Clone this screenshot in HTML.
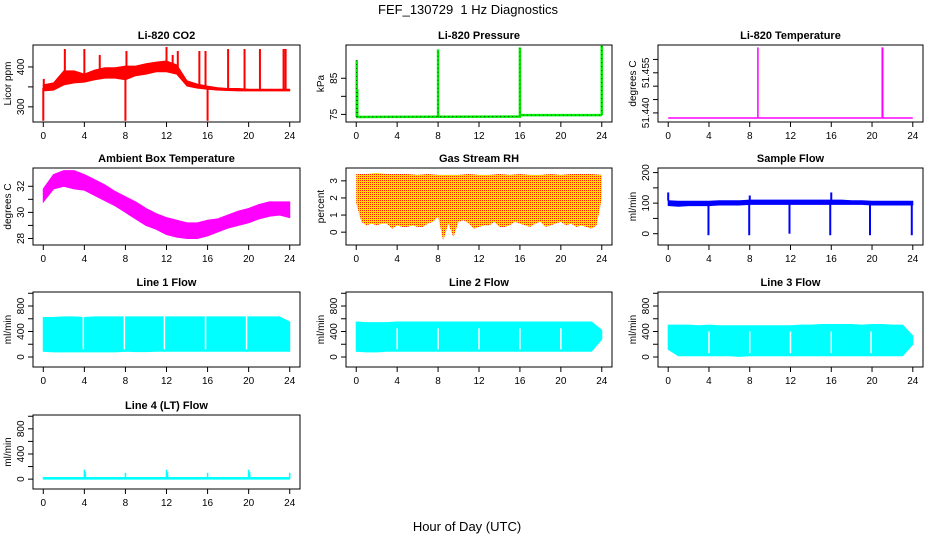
<!DOCTYPE html>
<html><head><meta charset="utf-8"><style>
html,body{margin:0;padding:0;background:#fff;}
svg{display:block;font-family:"Liberation Sans",sans-serif;}
</style></head><body>
<svg id="c" width="936" height="540" xmlns="http://www.w3.org/2000/svg">
<defs>
<pattern id="rhpat" width="2" height="2" patternUnits="userSpaceOnUse">
<rect width="2" height="2" fill="#ffdd00"/><rect width="1" height="1" fill="#ff2200"/>
</pattern>
</defs>
<text x="468" y="14" font-size="13" text-anchor="middle">FEF_130729&#160; 1 Hz Diagnostics</text>
<text x="467" y="531" font-size="13" text-anchor="middle">Hour of Day (UTC)</text>
</svg>
<script>
// ---- data ----
const hours = [0,1,2,3,4,5,6,7,8,9,10,11,12,13,14,15,16,17,18,19,20,21,22,23,24];
const halfHours = [0,0.5,1,1.5,2,2.5,3,3.5,4,4.5,5,5.5,6,6.5,7,7.5,8,8.5,9,9.5,10,10.5,11,11.5,12,12.5,13,13.5,14,14.5,15,15.5,16,16.5,17,17.5,18,18.5,19,19.5,20,20.5,21,21.5,22,22.5,23,23.5,24];
const xTicks = [0,4,8,12,16,20,24];

const co2Low = [340,342,355,360,362,368,372,372,368,378,382,388,388,382,352,347,344,342,341,340,340,340,340,340,340];
const co2High = [355,360,390,390,382,392,398,398,402,402,408,412,415,405,365,357,352,348,346,346,344,344,344,344,344];
const co2SpikeHours = [0.05,0,2.1,4,5.5,8,8.1,12,12.6,13.1,15.2,15.8,16,18,19.6,21.1,23.4,23.6];
const co2SpikeVals = [370,265,445,445,430,265,440,450,430,440,440,440,265,445,445,445,445,445];

const presHours = [0,0.1,16,16.01,24];
const presVals = [74.3,74.3,74.4,74.8,74.8];
const presSpikeHours = [0.05,0.1,8,16,24];
const presSpikeVals = [90,82,93,93.5,94];

const tempBase = [51.4381,51.4381];
const tempBaseHours = [0,24];
const tempSpikeHours = [8.8,21.0,21.05];
const tempSpikeVals = [51.4645,51.4645,51.4645];

const ambLow = [30.8,31.8,32.0,31.8,31.7,31.3,30.9,30.5,30.0,29.5,29.0,28.7,28.3,28.1,28.0,28.0,28.2,28.5,28.8,29.0,29.2,29.5,29.7,29.8,29.6];
const ambHigh = [31.8,32.9,33.2,33.2,32.9,32.5,32.1,31.6,31.2,30.8,30.3,29.9,29.6,29.4,29.2,29.2,29.4,29.5,29.8,30.1,30.3,30.6,30.8,30.8,30.8];

const rhHigh = [3.4,3.4,3.45,3.4,3.4,3.4,3.35,3.4,3.35,3.35,3.35,3.4,3.35,3.35,3.4,3.35,3.4,3.35,3.35,3.4,3.35,3.4,3.4,3.4,3.35];
const rhLow = [1.7,0.6,0.4,0.5,0.4,0.5,0.5,0.2,0.4,0.3,0.3,0.4,0.3,0.3,0.5,0.6,0.9,-0.5,0.5,-0.3,0.6,0.7,0.5,0.2,0.3,0.4,0.4,0.6,0.3,0.3,0.4,0.6,0.5,0.4,0.3,0.5,0.6,0.3,0.4,0.5,0.6,0.4,0.5,0.3,0.4,0.3,0.2,0.4,2.0];

const sfLow = [92,90,92,92,92,94,94,94,96,96,96,96,96,96,96,96,96,96,96,96,94,94,94,94,94];
const sfHigh = [108,106,106,106,106,108,108,108,110,110,110,110,110,110,110,110,110,110,108,108,106,106,106,106,106];
const sfDipHours = [3.95,7.95,11.9,15.9,19.8,23.9];
const sfDipVals = [-5,-5,0,-5,-5,-5];
const sfPeakHours = [0,8,16];
const sfPeakVals = [135,125,135];

const l1Low = [90,80,80,80,80,80,80,80,90,85,85,90,90,90,90,90,90,90,90,90,90,90,90,90,90];
const l1High = [620,620,630,630,620,630,630,630,630,630,630,630,630,630,630,630,630,630,630,630,630,630,630,630,550];
const l1Gaps = [3.9,7.9,11.8,15.8,19.8];
const l2Low = [90,80,80,90,90,90,90,90,90,90,90,90,90,90,90,90,90,90,90,90,90,90,90,90,280];
const l2High = [550,540,540,540,550,550,550,550,550,550,550,550,550,550,550,550,550,550,550,550,550,550,550,550,420];
const l2Gaps = [4,8,12,16,20];
const l3Low = [120,20,20,20,20,20,20,10,20,20,20,20,20,20,20,20,20,20,20,20,20,20,20,20,200];
const l3High = [500,500,500,490,500,490,490,490,490,490,490,490,490,500,500,510,510,510,510,500,510,510,500,500,330];
const l3Gaps = [4,8,12,16,19.9];
const l4Low = [0,0,0,0,0,0,0,0,0,0,0,0,0,0,0,0,0,0,0,0,0,0,0,0,0];
const l4High = [25,25,25,25,25,25,25,25,25,25,25,25,25,25,25,25,25,25,25,25,25,25,25,25,25];
const l4SpikeHours = [4,4.1,8,12,12.1,16,20,20.1,24];
const l4SpikeVals = [150,110,100,150,110,100,150,110,100];

// ---- layout ----
const NS = "http://www.w3.org/2000/svg";
const svg = document.getElementById('c');
const cols = [{x0:33,x1:300},{x0:346,x1:612},{x0:658,x1:923}];
const rows = [{y0:45,y1:122},{y0:168,y1:245},{y0:292,y1:367},{y0:415,y1:489}];

function el(tag, attrs, parent){
  const e = document.createElementNS(NS, tag);
  for (const k in attrs) e.setAttribute(k, attrs[k]);
  (parent||svg).appendChild(e);
  return e;
}

function makePanel(ci, ri, title, ytitle, v1, v2, yTicks, yLabels, name){
  const c = cols[ci], r = rows[ri];
  const pad = (c.x1 - c.x0) * 0.0385;
  const xs = h => c.x0 + pad + h/24 * (c.x1 - c.x0 - 2*pad);
  const ys = v => r.y1 - (v - v1)/(v2 - v1) * (r.y1 - r.y0);
  const g = el('g', {});
  
  
  const dataG = el('g', {}, g);
  
  
  const box = el('rect', {x:c.x0, y:r.y0, width:c.x1-c.x0, height:r.y1-r.y0, fill:'none', stroke:'#000', 'stroke-width':1}, g);
  
  
  const t = el('text', {x:(c.x0+c.x1)/2, y:r.y0-6, 'font-size':11, 'font-weight':'bold', 'text-anchor':'middle'}, g);
  t.textContent = title;
  
  
  const xa = el('g', {}, g);
  
  
  xTicks.forEach(h => {
    el('line', {x1:xs(h), x2:xs(h), y1:r.y1, y2:r.y1+5, stroke:'#000'}, xa);
    const tl = el('text', {x:xs(h), y:r.y1+17, 'font-size':10, 'text-anchor':'middle'}, xa);
    tl.textContent = h;
    
    
  });
  const ya = el('g', {}, g);
  
  
  yTicks.forEach(v => {
    el('line', {x1:c.x0-5, x2:c.x0, y1:ys(v), y2:ys(v), stroke:'#000'}, ya);
  });
  yLabels.forEach(v => {
    const lx = c.x0 - 9;
    const tl = el('text', {x:lx, y:ys(v), 'font-size':10, 'text-anchor':'middle', transform:`rotate(-90 ${lx} ${ys(v)})`}, ya);
    tl.textContent = v;
    
    
  });
  const tx = c.x0 - 22, ty = (r.y0 + r.y1)/2;
  const yt = el('text', {x:tx, y:ty, 'font-size':10, 'text-anchor':'middle', transform:`rotate(-90 ${tx} ${ty})`}, ya);
  yt.textContent = ytitle;
  
  
  return {xs, ys, g:dataG};
}

function band(p, hs, lo, hi, fill, strokeW){
  let pts = hs.map((h,i)=>p.xs(h)+','+p.ys(hi[i]));
  for (let i = hs.length-1; i >= 0; i--) pts.push(p.xs(hs[i])+','+p.ys(lo[i]));
  const pg = el('polygon', {points:pts.join(' '), fill:fill, stroke:fill, 'stroke-width':strokeW===undefined?1:strokeW}, p.g);
  
  
  return pg;
}
function line(p, hs, vs, color, w, dash){
  const pts = hs.map((h,i)=>p.xs(h)+','+p.ys(vs[i])).join(' ');
  const a = {points:pts, fill:'none', stroke:color, 'stroke-width':w||1};
  if (dash) a['stroke-dasharray'] = dash;
  const pl = el('polyline', a, p.g);
  
  
  return pl;
}
function spikes(p, hs, vs, baseFn, color, w, dash){
  hs.forEach((h,i)=>{
    const a = {x1:p.xs(h), x2:p.xs(h), y1:p.ys(baseFn(h)), y2:p.ys(vs[i]), stroke:color, 'stroke-width':w||1.5};
    if (dash) a['stroke-dasharray'] = dash;
    const ln = el('line', a, p.g);
    
    
  });
}
function gaps(p, hs, top, bot){
  hs.forEach(h=>{
    const ln = el('line', {x1:p.xs(h), x2:p.xs(h), y1:p.ys(top), y2:p.ys(bot), stroke:'#fff', 'stroke-width':1.5}, p.g);
    
    
  });
}
const interp = (hs, vs) => h => {
  for (let i=0;i<hs.length-1;i++) if (h<=hs[i+1]) { const t=(h-hs[i])/(hs[i+1]-hs[i]||1); return vs[i]+t*(vs[i+1]-vs[i]); }
  return vs[vs.length-1];
};

// CO2
let p = makePanel(0,0,'Li-820 CO2','Licor ppm',262,455,[300,350,400],[300,400],'co2');
band(p, hours, co2Low, co2High, '#ff0000');
spikes(p, co2SpikeHours, co2SpikeVals, interp(hours, co2Low.map((v,i)=>(v+co2High[i])/2)), '#ff0000', 2);

// Pressure
p = makePanel(1,0,'Li-820 Pressure','kPa',72.9,94.2,[75,80,85],[75,85],'pressure');
line(p, presHours, presVals, '#00ee00', 2.5);
line(p, presHours, presVals, '#000', 0.7, '1,3');
spikes(p, presSpikeHours, presSpikeVals, interp(presHours, presVals), '#00ee00', 2.5);
spikes(p, presSpikeHours, presSpikeVals, interp(presHours, presVals), '#000', 0.6, '1,3');

// Li-820 Temperature
p = makePanel(2,0,'Li-820 Temperature','degrees C',51.4366,51.4654,[51.440,51.445,51.450,51.455,51.460],['51.440','51.455'],'li820-temp');
line(p, tempBaseHours, tempBase, '#ff00ff', 1.5);
spikes(p, tempSpikeHours, tempSpikeVals, interp(tempBaseHours, tempBase), '#ff00ff', 1.5);

// Ambient
p = makePanel(0,1,'Ambient Box Temperature','degrees C',27.5,33.4,[28,29,30,31,32],[28,30,32],'ambient-temp');
band(p, hours, ambLow, ambHigh, '#ff00ff');

// RH
p = makePanel(1,1,'Gas Stream RH','percent',-0.75,3.75,[0,1,2,3],[0,1,2,3],'gas-rh');
const rhHighHalf = halfHours.map(h=>interp(hours, rhHigh)(h));
band(p, halfHours, rhLow, rhHighHalf, 'url(#rhpat)', 0);

// Sample flow
p = makePanel(2,1,'Sample Flow','ml/min',-37,215,[0,50,100,150,200],[0,100,200],'sample-flow');
band(p, hours, sfLow, sfHigh, '#0000ff');
spikes(p, sfDipHours, sfDipVals, interp(hours, sfLow), '#0000ff', 2);
spikes(p, sfPeakHours, sfPeakVals, interp(hours, sfHigh), '#0000ff', 2);

// Line flows
p = makePanel(0,2,'Line 1 Flow','ml/min',-157,1020,[0,200,400,600,800,1000],[0,400,800],'line1-flow');
band(p, hours, l1Low, l1High, '#00ffff'); gaps(p, l1Gaps, 640, 120);
p = makePanel(1,2,'Line 2 Flow','ml/min',-157,1020,[0,200,400,600,800,1000],[0,400,800],'line2-flow');
band(p, hours, l2Low, l2High, '#00ffff'); gaps(p, l2Gaps, 450, 120);
p = makePanel(2,2,'Line 3 Flow','ml/min',-157,1020,[0,200,400,600,800,1000],[0,400,800],'line3-flow');
band(p, hours, l3Low, l3High, '#00ffff'); gaps(p, l3Gaps, 400, 60);
p = makePanel(0,3,'Line 4 (LT) Flow','ml/min',-157,1020,[0,200,400,600,800,1000],[0,400,800],'line4-flow');
band(p, hours, l4Low, l4High, '#00ffff');
spikes(p, l4SpikeHours, l4SpikeVals, interp(hours, l4High), '#00ffff', 1.5);
</script>
</body></html>
